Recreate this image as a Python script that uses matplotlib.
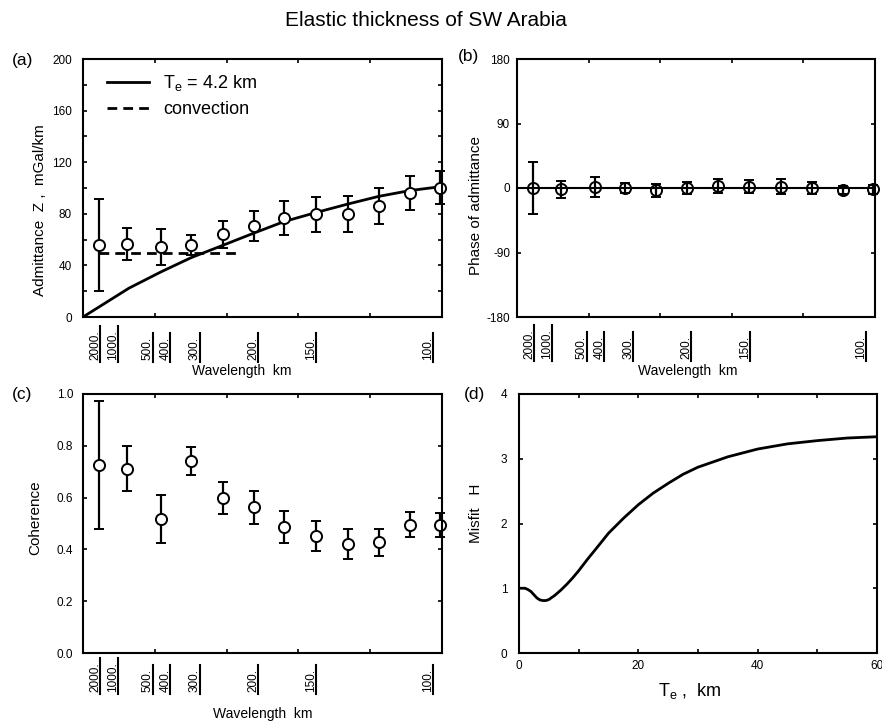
import numpy as np
import matplotlib
matplotlib.use('Agg')
import matplotlib.pyplot as plt
from matplotlib.ticker import MultipleLocator
from matplotlib.transforms import offset_copy

plt.rcParams['font.family'] = ['Liberation Sans', 'DejaVu Sans']
plt.rcParams['mathtext.fontset'] = 'custom'
plt.rcParams['mathtext.rm'] = 'Liberation Sans'
plt.rcParams['mathtext.it'] = 'Liberation Sans:italic'
plt.rcParams['axes.unicode_minus'] = False

# wavenumber of observations (1/km)
k_obs = [0.000466, 0.00125, 0.00223, 0.00309, 0.00399, 0.00488,
         0.00575, 0.00666, 0.00756, 0.00845, 0.00934, 0.01021]

# (a) admittance
adm = [55.8, 56.6, 54.0, 55.8, 64.3, 70.5, 77.0, 79.8, 79.8, 86.3, 95.9, 100.3]
adm_err = [36, 12.7, 14, 8, 10.5, 11.5, 13.3, 13.6, 13.8, 14, 13.2, 12.8]
k_model = [0.0, 0.00131, 0.00223, 0.00309, 0.00399, 0.00488,
           0.00575, 0.00666, 0.00756, 0.00845, 0.00934, 0.01021]
adm_model = [0, 22.3, 35.0, 46.0, 55.5, 65.0, 74.0, 81.0, 87.5, 93.5, 98.0, 101.0]
k_conv = [0.00047, 0.0044]
adm_conv = [49.5, 49.5]

# (b) phase
phase = [0, -2, 1, 0, -3, 0, 3, 2, 2, 0, -3, -2]
phase_err = [36, 12, 14, 7, 9, 8, 10, 9, 10, 8, 6, 6]
k_phase_model = [0.0, 0.01026]
phase_model = [0, 0]

# (c) coherence
coh = [0.724, 0.712, 0.516, 0.741, 0.597, 0.563, 0.488, 0.452, 0.421, 0.427, 0.494, 0.493]
coh_lo = [0.479, 0.627, 0.426, 0.688, 0.535, 0.500, 0.426, 0.395, 0.364, 0.374, 0.446, 0.449]
coh_hi = [0.974, 0.800, 0.609, 0.796, 0.661, 0.626, 0.548, 0.510, 0.477, 0.480, 0.545, 0.541]

# (d) misfit
te = [0, 1, 1.5, 2, 2.5, 3, 3.5, 4, 4.5, 5, 6, 7, 8, 9, 10, 11.5, 13, 15,
      17.5, 20, 22.5, 25, 27.5, 30, 35, 40, 45, 50, 55, 60]
misfit = [1.0, 1.0, 0.98, 0.95, 0.9, 0.85, 0.82, 0.81, 0.81, 0.825, 0.89, 0.97,
          1.06, 1.16, 1.27, 1.45, 1.62, 1.85, 2.08, 2.29, 2.47, 2.62, 2.76, 2.87,
          3.03, 3.15, 3.23, 3.28, 3.32, 3.34]

wl_ticks = [2000, 1000, 500, 400, 300, 200, 150, 100]
k_max = 0.01026

fig = plt.figure(figsize=(8.82, 7.28), dpi=100)
W, H = 882, 728


def make_ax(l, r, t, b):
    return fig.add_axes([l / W, 1 - b / H, (r - l) / W, (b - t) / H])


ax_a = make_ax(83, 442, 59, 317)
ax_b = make_ax(517, 875, 59, 317)
ax_c = make_ax(83, 442, 394, 653)
ax_d = make_ax(519, 877, 394, 653)


def style(ax, pad):
    for s in ax.spines.values():
        s.set_linewidth(1.5)
    ax.tick_params(which='both', direction='in', top=True, right=True,
                   length=3, width=1.2, labelsize=8.5, pad=pad)


eb_kw = dict(fmt='o', color='k', ms=8, mew=1.4, elinewidth=1.6,
             capsize=3.6, capthick=1.6)


def unclip(cont):
    for a in list(cont.lines[1]) + list(cont.lines[2]):
        a.set_clip_on(False)
    cont.lines[0].set_clip_on(False)


wl_texts = []


def wave_axis(ax, drop, lab_x, lab_y):
    ax.set_xlim(0, k_max)
    ax.set_xticks(np.linspace(0, k_max, 6))
    ax.tick_params(axis='x', labelbottom=False)
    tr = offset_copy(ax.get_xaxis_transform(), fig=fig, x=-2, y=-drop, units='dots')
    for lam in wl_ticks:
        t = ax.text(1.0 / lam, 0, f"{lam}.", transform=tr, rotation=90,
                    rotation_mode='anchor', ha='left', va='baseline', fontsize=8.5)
        wl_texts.append((ax, t, 1.0 / lam))
    ax.set_xlabel('Wavelength  km', fontsize=10)
    ax.xaxis.set_label_coords(lab_x, lab_y)


# (a)
style(ax_a, 8)
ax_a.plot(k_model, adm_model, color='k', lw=2, label=r'$\mathrm{T_e}$ = 4.2 km')
ax_a.plot(k_conv, adm_conv, color='k', lw=2, ls=(0, (3.5, 2.2)), label='convection')
c = ax_a.errorbar(k_obs, adm, yerr=adm_err, mfc='white', **eb_kw)
unclip(c)
ax_a.set_ylim(0, 200)
ax_a.yaxis.set_major_locator(MultipleLocator(40))
ax_a.yaxis.set_minor_locator(MultipleLocator(20))
ax_a.set_ylabel('Admittance  Z ,  mGal/km', fontsize=11)
ax_a.yaxis.set_label_coords(-0.10, 0.415)
ax_a.legend(loc='upper left', bbox_to_anchor=(0.067, 0.945), frameon=False,
            fontsize=13, borderaxespad=0, borderpad=0, handlelength=2.3,
            handletextpad=0.8, labelspacing=0.45)
wave_axis(ax_a, 43, 0.443, -0.182)

# (b)
style(ax_b, 5)
ax_b.plot(k_phase_model, phase_model, color='k', lw=1.5)
c = ax_b.errorbar(k_obs, phase, yerr=phase_err, mfc='none', **eb_kw)
unclip(c)
ax_b.set_ylim(-180, 180)
ax_b.set_yticks([-180, -90, 0, 90, 180])
ax_b.set_ylabel('Phase of admittance', fontsize=11)
ax_b.yaxis.set_label_coords(-0.095, 0.434)
wave_axis(ax_b, 42, 0.478, -0.182)

# (c)
style(ax_c, 7)
yerr_c = [np.array(coh) - np.array(coh_lo), np.array(coh_hi) - np.array(coh)]
c = ax_c.errorbar(k_obs, coh, yerr=yerr_c, mfc='white', **eb_kw)
unclip(c)
ax_c.set_ylim(0, 1)
ax_c.set_yticks(np.arange(0, 1.01, 0.2))
ax_c.yaxis.set_major_formatter(plt.FormatStrFormatter('%.1f'))
ax_c.set_ylabel('Coherence', fontsize=11)
ax_c.yaxis.set_label_coords(-0.114, 0.521)
wave_axis(ax_c, 39, 0.501, -0.208)

# (d)
style(ax_d, 8.5)
ax_d.tick_params(axis='x', pad=5)
ax_d.plot(te, misfit, color='k', lw=2)
ax_d.set_xlim(0, 60)
ax_d.set_ylim(0, 4)
ax_d.xaxis.set_major_locator(MultipleLocator(20))
ax_d.xaxis.set_minor_locator(MultipleLocator(10))
ax_d.yaxis.set_major_locator(MultipleLocator(1))
ax_d.set_ylabel('Misfit   H', fontsize=11)
ax_d.yaxis.set_label_coords(-0.10, 0.54)
ax_d.set_xlabel(r'$\mathrm{T_e}$ ,  km', fontsize=13)
ax_d.xaxis.set_label_coords(0.478, -0.11)

# panel letters and title
for lab, x, y in [('(a)', 23, 60), ('(b)', 468, 57), ('(c)', 22, 395), ('(d)', 474, 395)]:
    fig.text(x / W, 1 - y / H, lab, fontsize=12.5, ha='center', va='center')
fig.text(426 / W, 1 - 21 / H, 'Elastic thickness of SW Arabia', fontsize=15,
         ha='center', va='center')

# underline the rotated wavelength labels
fig.canvas.draw()
renderer = fig.canvas.get_renderer()
for ax, t, k in wl_texts:
    bb = t.get_window_extent(renderer)
    inv = ax.transAxes.inverted()
    y0 = inv.transform((0, bb.y0 - 2))[1]
    y1 = inv.transform((0, bb.y1 + 4))[1]
    ax.plot([k, k], [y0, y1], transform=ax.get_xaxis_transform(), color='k',
            lw=1.5, clip_on=False)

fig.savefig('out.png', dpi=100)
